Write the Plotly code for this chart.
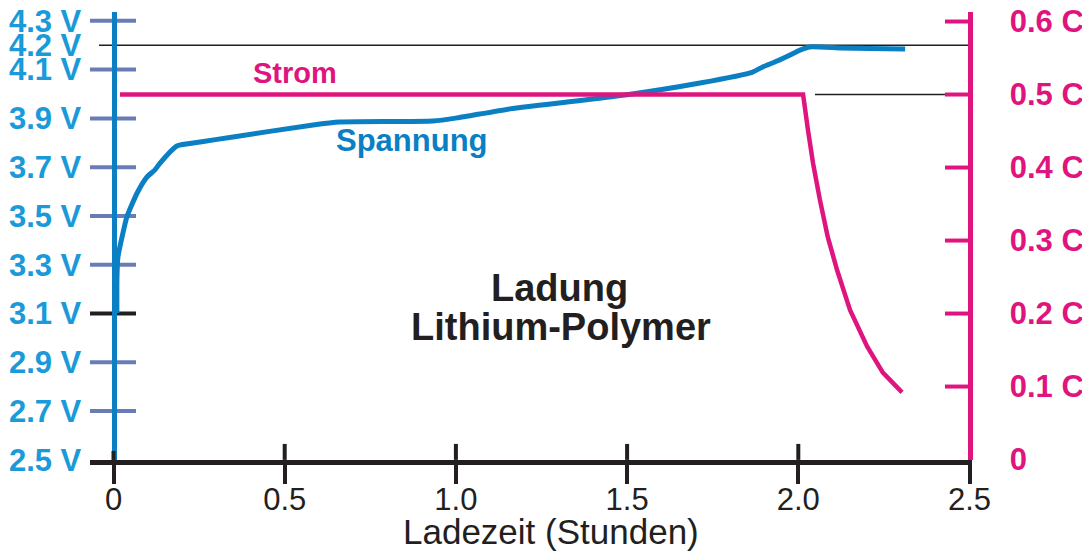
import plotly.graph_objects as go

# ---------------- data ----------------
hours_v = [0.010, 0.010, 0.013, 0.025, 0.039, 0.069, 0.098, 0.121, 0.136, 0.185, 0.253, 0.349,
           0.583, 0.661, 0.933, 1.004, 1.158, 1.494, 1.713, 1.867, 1.896, 1.938, 1.976, 2.005,
           2.034, 2.122, 2.209, 2.312]
volts = [3.102, 3.238, 3.332, 3.414, 3.496, 3.594, 3.660, 3.689, 3.717, 3.787, 3.803, 3.824,
         3.873, 3.885, 3.889, 3.902, 3.939, 3.996, 4.045, 4.090, 4.111, 4.135, 4.160, 4.180,
         4.193, 4.189, 4.186, 4.184]

hours_i = [0.019, 2.014, 2.028, 2.043, 2.063, 2.086, 2.113, 2.151, 2.201, 2.247, 2.303]
current_c = [0.5, 0.5, 0.452, 0.406, 0.356, 0.305, 0.260, 0.205, 0.155, 0.119, 0.092]

x_ticks = [0, 0.5, 1.0, 1.5, 2.0, 2.5]
x_tick_labels = ["0", "0.5", "1.0", "1.5", "2.0", "2.5"]

v_ticks = [2.5, 2.7, 2.9, 3.1, 3.3, 3.5, 3.7, 3.9, 4.1, 4.2, 4.3]
v_tick_labels = ["2.5 V", "2.7 V", "2.9 V", "3.1 V", "3.3 V", "3.5 V", "3.7 V", "3.9 V",
                 "4.1 V", "4.2 V", "4.3 V"]
v_tick_marks = [2.7, 2.9, 3.3, 3.5, 3.7, 3.9, 4.1, 4.3]
v_black_marks = [3.1]

c_ticks = [0, 0.1, 0.2, 0.3, 0.4, 0.5, 0.6]
c_tick_labels = ["0", "0.1 C", "0.2 C", "0.3 C", "0.4 C", "0.5 C", "0.6 C"]
c_tick_marks = [0.1, 0.2, 0.3, 0.4, 0.5, 0.6]

v_ref = 4.2        # reference line (Ladeschlussspannung)
c_ref = 0.5        # reference line (Ladestrom)

# ---------------- styling / geometry (page pixel coordinates) ----------------
PAGE_W, PAGE_H = 1090, 551
BODY_OFF = 8                      # default page margin around the figure
W, H = PAGE_W - BODY_OFF, PAGE_H - BODY_OFF
PLOT_L, PLOT_R, PLOT_T, PLOT_B = 90, 972, 12, 460
X0_PX = 113.5
PX_PER_H = 342.4
PX_PER_V = 244.0
PX_PER_C = 730.8

FONT = "Liberation Sans, Arial, sans-serif"
BLUE = "#0a7fc4"
LBLUE = "#1a9ad9"
SLATE = "#6a7cb6"
MAGENTA = "#e0147e"
BLACK = "#231f20"

xr = [(PLOT_L - X0_PX) / PX_PER_H, (PLOT_R - X0_PX) / PX_PER_H]
yr = [2.5 - 0.0004, 2.5 + (PLOT_B - PLOT_T) / PX_PER_V]
y2r = [-0.0006, (PLOT_B - PLOT_T) / PX_PER_C]
axis_pos_left = (X0_PX - PLOT_L) / (PLOT_R - PLOT_L)
axis_pos_right = (X0_PX + 2.5 * PX_PER_H - PLOT_L) / (PLOT_R - PLOT_L)


def h_of(px):
    return (px - X0_PX) / PX_PER_H


def v_of(py):
    return 2.5 + (PLOT_B - py) / PX_PER_V


fig = go.Figure()

fig.add_trace(go.Scatter(x=hours_i, y=current_c, mode="lines", yaxis="y2",
                         line=dict(color=MAGENTA, width=4.5), hoverinfo="skip",
                         showlegend=False))
fig.add_trace(go.Scatter(x=hours_v, y=volts, mode="lines", yaxis="y",
                         line=dict(color=BLUE, width=5, shape="spline", smoothing=0.5),
                         hoverinfo="skip", showlegend=False))

shapes = []
# reference lines
shapes.append(dict(type="line", xref="x", yref="y", x0=h_of(99), x1=2.5, y0=v_ref, y1=v_ref,
                   line=dict(color=BLACK, width=1.5), layer="below"))
shapes.append(dict(type="line", xref="x", yref="y2", x0=h_of(815), x1=2.5, y0=c_ref, y1=c_ref,
                   line=dict(color=BLACK, width=1.5), layer="below"))
# left tick marks (cross the axis line)
for v in v_tick_marks:
    shapes.append(dict(type="line", xref="x", yref="y", x0=xr[0], x1=h_of(136), y0=v, y1=v,
                       line=dict(color=SLATE, width=4), layer="below"))
for v in v_black_marks:
    shapes.append(dict(type="line", xref="x", yref="y", x0=xr[0], x1=h_of(136), y0=v, y1=v,
                       line=dict(color=BLACK, width=4), layer="below"))
# right tick marks, inner half
for c in c_tick_marks:
    shapes.append(dict(type="line", xref="x", yref="y2", x0=h_of(945), x1=2.5, y0=c, y1=c,
                       line=dict(color=MAGENTA, width=4), layer="below"))
# bottom tick marks, inner half
for t in x_ticks[:-1]:
    shapes.append(dict(type="line", xref="x", yref="y", x0=t, x1=t, y0=2.5,
                       y1=2.5 + (16 if t > 0 else 9) / PX_PER_V,
                       line=dict(color=BLACK, width=4), layer="above"))

annotations = [
    dict(text="Strom", x=h_of(295), y=v_of(73.5), xref="x", yref="y",
         xanchor="center", yanchor="middle", showarrow=False,
         font=dict(family=FONT, size=29, color=MAGENTA, weight="bold")),
    dict(text="Spannung", x=h_of(412), y=v_of(141), xref="x", yref="y",
         xanchor="center", yanchor="middle", showarrow=False,
         font=dict(family=FONT, size=31, color=BLUE, weight="bold")),
    dict(text="Ladung", x=h_of(559), y=v_of(288), xref="x", yref="y",
         xanchor="center", yanchor="middle", showarrow=False,
         font=dict(family=FONT, size=38, color=BLACK, weight="bold")),
    dict(text="Lithium-Polymer", x=h_of(561), y=v_of(327), xref="x", yref="y",
         xanchor="center", yanchor="middle", showarrow=False,
         font=dict(family=FONT, size=38, color=BLACK, weight="bold")),
    dict(text="Ladezeit (Stunden)", x=h_of(551), y=(PLOT_B - 531) / (PLOT_B - PLOT_T),
         xref="x", yref="paper", xanchor="center", yanchor="middle", showarrow=False,
         font=dict(family=FONT, size=35, color=BLACK)),
]

fig.update_layout(
    width=W, height=H,
    margin=dict(l=PLOT_L - BODY_OFF, r=PAGE_W - PLOT_R, t=PLOT_T - BODY_OFF, b=PAGE_H - PLOT_B,
                autoexpand=False),
    paper_bgcolor="white", plot_bgcolor="white",
    showlegend=False,
    shapes=shapes, annotations=annotations,
    xaxis=dict(range=xr, showgrid=False, zeroline=False, showline=True, automargin=False,
               linecolor=BLACK, linewidth=5, ticks="outside", ticklen=19, tickwidth=4,
               tickcolor=BLACK, tickvals=x_ticks, ticktext=x_tick_labels,
               tickfont=dict(family=FONT, size=31, color=BLACK), ticklabelstandoff=-11,
               ticklabeloverflow="allow"),
    yaxis=dict(range=yr, anchor="free", position=axis_pos_left, side="left", automargin=False,
               showgrid=False, zeroline=False, showline=True, linecolor=BLUE, linewidth=5,
               ticks="", tickvals=v_ticks, ticktext=v_tick_labels,
               tickfont=dict(family=FONT, size=31, color=LBLUE, weight="bold"),
               ticklabelstandoff=24, ticklabeloverflow="allow"),
    yaxis2=dict(range=y2r, overlaying="y", anchor="free", position=axis_pos_right, side="right",
                automargin=False,
                showgrid=False, zeroline=False, showline=True, linecolor=MAGENTA, linewidth=5,
                ticks="", tickvals=c_ticks, ticktext=c_tick_labels,
                tickfont=dict(family=FONT, size=31, color=MAGENTA, weight="bold"),
                ticklabelstandoff=31, ticklabeloverflow="allow"),
    yaxis3=dict(range=y2r, overlaying="y", anchor="free", position=axis_pos_right, side="right",
                automargin=False,
                showgrid=False, zeroline=False, showline=False,
                ticks="outside", ticklen=21, tickwidth=4, tickcolor=MAGENTA,
                tickvals=c_tick_marks, showticklabels=False),
)

fig.write_html("out.html")
